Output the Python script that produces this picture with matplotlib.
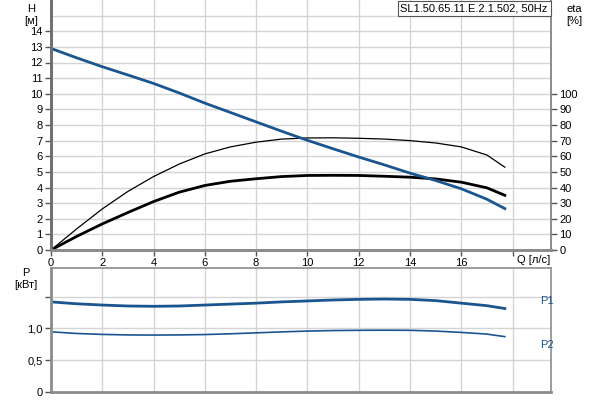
import numpy as np
import matplotlib
matplotlib.use('Agg')
import matplotlib.pyplot as plt

plt.rcParams['font.family'] = ['Liberation Sans', 'DejaVu Sans']
plt.rcParams['font.size'] = 8

# Daten
q = [0, 1, 2, 3, 4, 5, 6, 7, 8, 9, 10, 11, 12, 13, 14, 15, 16, 17, 17.7]
h = [12.9, 12.3, 11.73, 11.2, 10.66, 10.05, 9.4, 8.8, 8.2, 7.6, 7.02, 6.48,
     5.95, 5.45, 4.92, 4.45, 3.92, 3.25, 2.65]
eta_thin = [0, 13.5, 26.3, 37.5, 47, 55, 61.5, 66, 69, 71, 71.7, 71.8, 71.5,
            71, 70, 68.5, 66, 60.8, 53]
eta_thick = [0, 8.7, 16.7, 24, 31, 37, 41.3, 44, 45.6, 47, 47.7, 47.8, 47.7,
             47.2, 46.6, 45.5, 43.4, 39.8, 35]
p1 = [1.42, 1.39, 1.37, 1.355, 1.35, 1.355, 1.37, 1.385, 1.40, 1.42, 1.435,
      1.45, 1.46, 1.465, 1.46, 1.44, 1.40, 1.36, 1.315]
p2 = [0.946, 0.92, 0.905, 0.897, 0.895, 0.897, 0.903, 0.915, 0.93, 0.945,
      0.958, 0.966, 0.97, 0.972, 0.97, 0.958, 0.937, 0.91, 0.87]

x_ticks = [0, 2, 4, 6, 8, 10, 12, 14, 16, 18]
x_labels = ['0', '2', '4', '6', '8', '10', '12', '14', '16', '']
h_ticks = list(range(0, 15))
eta_ticks = list(range(0, 101, 10))
p_ticks = [0, 0.5, 1.0, 1.5]
p_labels = ['0', '0,5', '1,0', '']

blau = '#1a5590'
gitter = '#d4d4d4'
rahmen = '#8c8c8c'

fig = plt.figure(figsize=(6, 4), dpi=100)
ax = fig.add_axes([0.085, 0.375, 0.8333, 0.625])
ax2 = ax.twinx()
axp = fig.add_axes([0.085, 0.021, 0.8333, 0.308])

# Oberes Diagramm
ax.set_xlim(0, 19.5)
ax.set_ylim(0, 16)
ax.set_xticks(x_ticks)
ax.set_xticklabels(x_labels)
ax.set_yticks(h_ticks)
ax.set_yticks([15], minor=True)
ax.grid(True, which='both', color=gitter, lw=1)
ax.tick_params(which='minor', length=0)
ax.tick_params(which='major', length=4, width=1, color='#555555', pad=2)
ax.set_axisbelow(True)

ax.plot(q, eta_thin, color='black', lw=0.9, transform=ax2.transData, zorder=3)
ax.plot(q, eta_thick, color='black', lw=2.0, transform=ax2.transData, zorder=3)
ax.plot(q, h, color=blau, lw=2.0, zorder=4)

ax2.set_ylim(0, 160)
ax2.set_yticks(eta_ticks)
ax2.tick_params(length=4, width=1, color='#555555', pad=2)

for a in (ax, ax2):
    a.spines['top'].set_visible(False)
    a.spines['left'].set_color('#707070')
    a.spines['left'].set_linewidth(2)
    a.spines['bottom'].set_color(rahmen)
    a.spines['bottom'].set_linewidth(2)
    a.spines['right'].set_color(rahmen)
    a.spines['right'].set_linewidth(1.2)

fig.text(0.052, 0.99, 'H', ha='center', va='top')
fig.text(0.052, 0.96, '[м]', ha='center', va='top')
fig.text(0.958, 0.99, 'eta', ha='center', va='top')
fig.text(0.958, 0.96, '[%]', ha='center', va='top')
fig.text(0.862, 0.35, 'Q [л/с]', ha='left', va='center')
fig.text(0.913, 0.979, 'SL1.50.65.11.E.2.1.502, 50Hz', ha='right', va='center',
         bbox=dict(boxstyle='square,pad=0.25', fc='white', ec='#555555', lw=0.8))

# Unteres Diagramm
axp.set_xlim(0, 19.5)
axp.set_ylim(0, 1.95)
axp.set_xticks(x_ticks)
axp.set_xticklabels([])
axp.set_yticks(p_ticks)
axp.set_yticklabels(p_labels)
axp.tick_params(axis='x', length=0)
axp.tick_params(axis='y', length=4, width=1, color='#555555', pad=2)
axp.grid(True, color=gitter, lw=1)
axp.set_axisbelow(True)
axp.plot(q, p1, color=blau, lw=2.0)
axp.plot(q, p2, color=blau, lw=1.2)
for s in ('top', 'right'):
    axp.spines[s].set_color(rahmen)
    axp.spines[s].set_linewidth(1.2)
for s in ('left', 'bottom'):
    axp.spines[s].set_color(rahmen)
    axp.spines[s].set_linewidth(2)

fig.text(0.043, 0.33, 'P', ha='center', va='top')
fig.text(0.043, 0.30, '[кВт]', ha='center', va='top')
fig.text(0.9, 0.248, 'P1', ha='left', va='center', color=blau)
fig.text(0.9, 0.138, 'P2', ha='left', va='center', color=blau)

fig.savefig('out.png', dpi=100)
